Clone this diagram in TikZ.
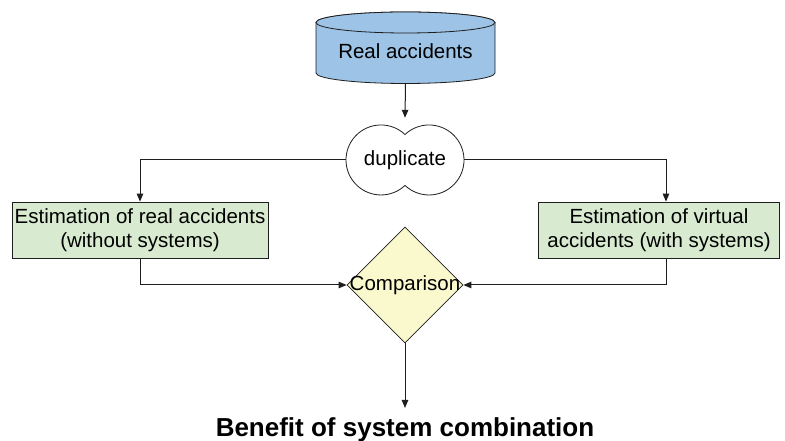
\documentclass[tikz,border=0pt]{standalone}
\usepackage{fontspec}
\setmainfont{Liberation Sans}
\usetikzlibrary{arrows.meta,shapes.geometric}
\definecolor{cylfill}{RGB}{157,195,230}
\definecolor{boxfill}{RGB}{216,234,208}
\definecolor{dmdfill}{RGB}{250,248,205}
\definecolor{linec}{RGB}{30,30,30}
\tikzset{
  arr/.style={draw=linec, line width=1pt, -{Triangle[length=8pt,width=6.5pt]}},
  conn/.style={draw=linec, line width=1pt},
  estbox/.style={draw=linec, line width=0.8pt, fill=boxfill, minimum height=56pt, inner sep=0pt, align=center, font=\fontsize{20.5}{23.5}\selectfont},
  txt/.style={font=\fontsize{20.5}{23.5}\selectfont, inner sep=0pt}
}
\begin{document}
\begin{tikzpicture}[x=1pt,y=1pt]
\useasboundingbox[fill=white] (0,0) rectangle (785,441);
% cylinder
\path[fill=cylfill, draw=linec, line width=0.8pt]
  (316,418.5) -- (316,368) arc[start angle=180,end angle=360,x radius=89.5,y radius=10.5]
  -- (495,418.5) arc[start angle=0,end angle=180,x radius=89.5,y radius=10.5] -- cycle;
\draw[fill=cylfill, draw=linec, line width=0.8pt] (405.5,418.5) ellipse[x radius=89.5, y radius=10.5];
\node[txt] (real) at (405.5,390) {Real accidents};
\coordinate (cylbot) at (405.5,357.5);
% duplicate shape
\path[fill=white, draw=linec, line width=0.8pt]
  (405,306.5) arc[start angle=46.7,end angle=313.3,radius=35]
  arc[start angle=226.7,end angle=493.3,radius=35] -- cycle;
\node[txt, minimum width=118pt, minimum height=84pt] (dup) at (405,281) {duplicate};
% boxes
\node[estbox, minimum width=256pt] (left) at (140,211) {Estimation of real accidents\\(without systems)};
\node[estbox, minimum width=241pt] (right) at (659,211) {Estimation of virtual\\accidents (with systems)};
% diamond
\node[diamond, draw=linec, line width=0.8pt, fill=dmdfill, minimum width=116pt, minimum height=116pt, inner sep=0pt] (cmp) at (405,156) {};
\node[txt] (cmptxt) at (cmp.center) {Comparison};
% title
\node[font=\bfseries\fontsize{26}{29}\selectfont, anchor=base, inner xsep=0pt, inner ysep=10pt] (title) at (405,4) {Benefit of system combination};
% connectors
\draw[arr] (cylbot) -- (dup.north);
\draw[arr] (dup.west) -| (left.north);
\draw[arr] (dup.east) -| ([xshift=7pt]right.north);
\draw[arr] (left.south) |- (cmp.west);
\draw[arr] ([xshift=7pt]right.south) |- (cmp.east);
\draw[arr] (cmp.south) -- (title.north);
\end{tikzpicture}
\end{document}
